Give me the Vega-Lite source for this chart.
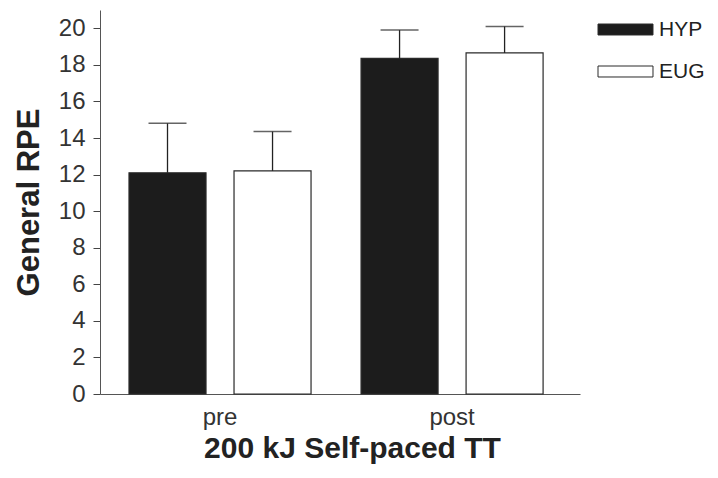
{
  "$schema": "https://vega.github.io/schema/vega-lite/v6.json",
  "autosize": {"type": "none"},
  "width": 480,
  "height": 384,
  "padding": {"left": 100, "top": 10, "right": 138, "bottom": 84},
  "background": "white",
  "config": {
    "view": {"stroke": null},
    "font": "Liberation Sans",
    "axis": {"grid": false},
    "axisY": {
      "labelOverlap": false,
      "tickSize": 7,
      "tickColor": "#444",
      "labelPadding": 8,
      "labelFontSize": 24,
      "labelColor": "#333",
      "labelFont": "Liberation Sans",
      "domainColor": "#555",
      "domainWidth": 1,
      "titleFontSize": 31,
      "titleFontWeight": "bold",
      "titleColor": "#222",
      "titleFont": "Liberation Sans",
      "titleAngle": -90,
      "titleX": -71,
      "titleY": 192,
      "titleAlign": "center",
      "titleBaseline": "middle"
    }
  },
  "data": {
    "values": [
      {"time": "pre", "group": "HYP", "mean": 12.1, "upper": 14.8},
      {"time": "pre", "group": "EUG", "mean": 12.2, "upper": 14.35},
      {"time": "post", "group": "HYP", "mean": 18.35, "upper": 19.9},
      {"time": "post", "group": "EUG", "mean": 18.65, "upper": 20.1}
    ]
  },
  "encoding": {
    "x": {
      "field": "time",
      "type": "nominal",
      "sort": ["pre", "post"],
      "scale": {"paddingInner": 0.2155, "paddingOuter": 0.142, "align": 0.44},
      "axis": {
        "title": "200 kJ Self-paced TT",
        "labelAngle": 0,
        "ticks": false,
        "tickSize": 0,
        "labelPadding": 30,
        "labelBaseline": "alphabetic",
        "labelFontSize": 24,
        "labelColor": "#333",
        "labelFont": "Liberation Sans",
        "domainColor": "#555",
        "domainWidth": 1,
        "titleFontSize": 30,
        "titleFontWeight": "bold",
        "titleColor": "#222",
        "titleFont": "Liberation Sans",
        "titleBaseline": "alphabetic",
        "titleAlign": "center",
        "titleX": 252,
        "titleY": 63
      }
    },
    "xOffset": {
      "field": "group",
      "type": "nominal",
      "sort": ["HYP", "EUG"],
      "scale": {"paddingInner": 0.2667, "paddingOuter": 0}
    }
  },
  "layer": [
    {
      "mark": {"type": "bar", "stroke": "#2a2a2a", "strokeWidth": 1.2},
      "encoding": {
        "y": {
          "field": "mean",
          "type": "quantitative",
          "scale": {"domain": [0, 21], "nice": false},
          "axis": {"title": "General RPE", "values": [0, 2, 4, 6, 8, 10, 12, 14, 16, 18, 20], "labelOverlap": false}
        },
        "fill": {
          "field": "group",
          "type": "nominal",
          "sort": ["HYP", "EUG"],
          "scale": {"domain": ["HYP", "EUG"], "range": ["#1c1c1c", "#ffffff"]},
          "legend": {
            "title": null,
            "orient": "none",
            "legendX": 511,
            "legendY": 5,
            "padding": 0,
            "symbolType": "M-2,-0.4H2V0.4H-2Z",
            "symbolSize": 756,
            "symbolStrokeColor": "#2a2a2a",
            "symbolStrokeWidth": 1,
            "labelOffset": 19,
            "labelFontSize": 21,
            "labelFont": "Liberation Sans",
            "labelColor": "#222",
            "rowPadding": 17
          }
        }
      }
    },
    {
      "mark": {"type": "rule", "color": "#222", "strokeWidth": 1.3},
      "encoding": {
        "y": {
          "field": "mean",
          "type": "quantitative",
          "axis": {"title": "General RPE", "values": [0, 2, 4, 6, 8, 10, 12, 14, 16, 18, 20], "labelOverlap": false}
        },
        "y2": {"field": "upper"}
      }
    },
    {
      "mark": {"type": "tick", "color": "#222", "size": 38, "thickness": 1.5, "orient": "horizontal"},
      "encoding": {
        "y": {
          "field": "upper",
          "type": "quantitative",
          "axis": {"title": "General RPE", "values": [0, 2, 4, 6, 8, 10, 12, 14, 16, 18, 20], "labelOverlap": false}
        }
      }
    }
  ]
}
